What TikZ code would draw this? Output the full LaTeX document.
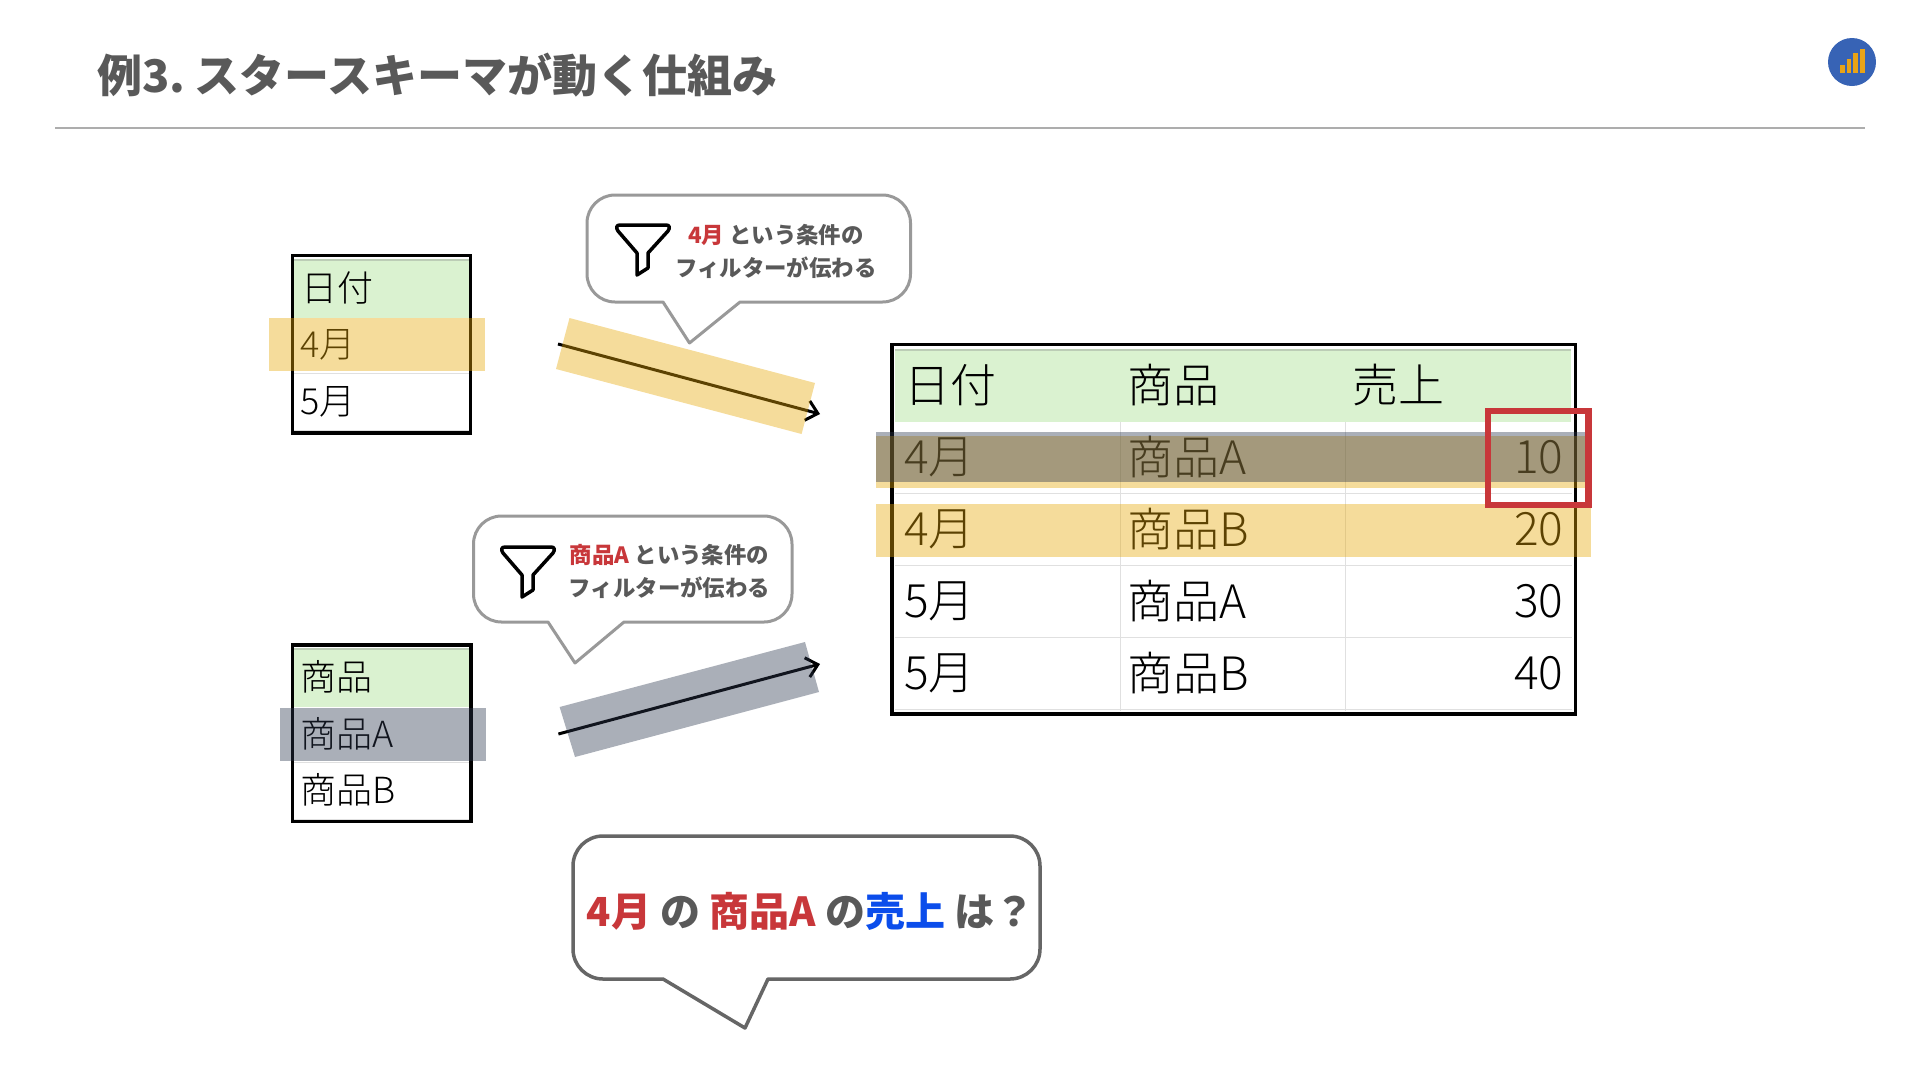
\documentclass[tikz,border=0pt]{standalone}
\usepackage{fontspec}
\setmainfont{Noto Sans CJK JP}
\newfontfamily\lightfont{Noto Sans CJK JP Light}
\usetikzlibrary{positioning, arrows.meta}
\definecolor{headgreen}{HTML}{DAF2D0}
\definecolor{headedge}{HTML}{BCCDB6}
\definecolor{titlegrey}{HTML}{595959}
\definecolor{markred}{HTML}{C8373A}
\definecolor{markblue}{HTML}{0B4DEB}
\definecolor{bandorange}{HTML}{E6A705}
\definecolor{bandnavy}{HTML}{2B364D}
\definecolor{gridgrey}{HTML}{E0E0E0}
\definecolor{logoblue}{HTML}{3763B5}
\definecolor{logobar}{HTML}{E8A317}
\tikzset{
    bigcell/.style={inner sep=0pt, anchor=west, font=\lightfont\fontsize{46}{46}\selectfont},
    smallcell/.style={inner sep=0pt, anchor=west, font=\lightfont\fontsize{36}{36}\selectfont},
    tablebox/.style={draw=black, line width=3.5pt},
    orangeband/.style={fill=bandorange, fill opacity=0.4},
    navyband/.style={fill=bandnavy, fill opacity=0.4},
    filterarrow/.style={-{Straight Barb[length=11pt, width=20pt]}, black, line width=3pt},
    gridline/.style={gridgrey, line width=1pt},
    bubbleline/.style={line width=3pt, line join=round, fill=white},
    filtertext/.style={inner sep=0pt, align=center, text=titlegrey, font=\bfseries\fontsize{22.4}{33}\selectfont},
}
\begin{document}
\begin{tikzpicture}[x=1pt, y=-1pt]
    \useasboundingbox (0,0) rectangle (1920,1080);

    % Title and logo
    \node[anchor=west, inner sep=0pt, text=titlegrey, font=\bfseries\fontsize{45}{45}\selectfont] (title) at (97,75) {例3.\hspace{9pt}スタースキーマが動く仕組み};
    \coordinate (ruleL) at (55,128);
    \coordinate (ruleR) at (1865,128);
    \draw[black!32, line width=2.5pt] (ruleL) -- (ruleR);
    \fill[logoblue] (1852,62) circle (24);
    \foreach \bx/\by in {1840/65, 1846.7/59, 1853.4/53, 1860/49} {
        \fill[logobar] (\bx,\by) rectangle (\bx+4.6,73);
    }

    % Date table
    \fill[headgreen] (294,260) rectangle (469,318);
    \draw[headedge, line width=1.5pt] (294,260) -- (469,260);
    \draw[gridline] (294,373) -- (469,373);
    \draw[gridline] (294,430) -- (469,430);
    \node[smallcell] (dateHead) at (301,288) {日付};
    \node[smallcell] (dateApr) at (300,345) {4月};
    \node[smallcell] (dateMay) at (300,402) {5月};
    \draw[tablebox] (292.5,255.5) rectangle (470.5,433);

    % Product table
    \fill[headgreen] (294,649) rectangle (470,707);
    \draw[headedge, line width=1.5pt] (294,649) -- (470,649);
    \draw[gridline] (294,762) -- (470,762);
    \draw[gridline] (294,819) -- (470,819);
    \node[smallcell] (prodHead) at (300,677) {商品};
    \node[smallcell] (prodA) at (300,734) {商品A};
    \node[smallcell] (prodB) at (300,790) {商品B};
    \draw[tablebox] (292.5,645) rectangle (471,821.5);

    % Sales table
    \fill[headgreen] (895,350) rectangle (1571,422);
    \draw[headedge, line width=1.5pt] (895,350) -- (1571,350);
    \foreach \gx in {1120,1345} {
        \draw[gridline] (\gx,422) -- (\gx,711);
    }
    \foreach \gy in {493,565,637,709} {
        \draw[gridline] (895,\gy) -- (1572,\gy);
    }
    \node[bigcell] (headDate) at (904,385) {日付};
    \node[bigcell] (headProd) at (1127.5,385) {商品};
    \node[bigcell] (headSales) at (1352.5,385) {売上};
    \foreach \rowy/\rowm/\rowp/\rows in {457/4/A/10, 529/4/B/20, 601/5/A/30, 673/5/B/40} {
        \node[bigcell] at (904,\rowy) {\rowm 月};
        \node[bigcell] at (1127.5,\rowy) {商品\rowp};
        \node[bigcell, anchor=east] at (1563.5,\rowy) {\rows};
    }
    \draw[tablebox] (892,344.5) rectangle (1575.5,714);

    % Highlight bands
    \fill[orangeband] (269,318) rectangle (485,371);
    \fill[navyband] (280,708) rectangle (486,761);
    \fill[orangeband] (876,436) rectangle (1585,488);
    \fill[navyband] (876,432) rectangle (1585,482);
    \fill[orangeband] (876,504) rectangle (1591,557);
    \draw[markred, line width=6.5pt] (1488,411) rectangle (1588.5,505);

    % Filter arrows
    \coordinate (aprStart) at (558,344);
    \coordinate (aprEnd) at (820,414);
    \coordinate (prodStart) at (558.4,734);
    \coordinate (prodEnd) at (820,664);
    \draw[filterarrow] (aprStart) -- (aprEnd);
    \draw[filterarrow] (prodStart) -- (prodEnd);
    \fill[orangeband] (569.5,318) -- (815,383) -- (801.6,434) -- (556,369) -- cycle;
    \fill[navyband] (559.6,707) -- (805,642) -- (819,692) -- (575,757) -- cycle;

    % Upper bubble
    \draw[bubbleline, draw=black!40, rounded corners=28pt] (750,195) -- (910.5,195) -- (910.5,302) [sharp corners] -- (740,302) -- (689.5,343) -- (663,302) [rounded corners=28pt] -- (587,302) -- (587,195) -- cycle;
    \node[filtertext] (aprText) at (776,251.5) {\textcolor{markred}{4月} という条件の\\フィルターが伝わる};

    % Lower bubble
    \draw[bubbleline, draw=black!40, rounded corners=28pt] (650,516) -- (792,516) -- (792,622) [sharp corners] -- (624,622) -- (575,663) -- (548,622) [rounded corners=28pt] -- (473.5,622) -- (473.5,516) -- cycle;
    \node[filtertext] (prodText) at (669.5,571.5) {\textcolor{markred}{商品A} という条件の\\フィルターが伝わる};

    % Funnel icons
    \foreach \fx/\fy in {617/225, 502/547} {
        \begin{scope}[shift={(\fx,\fy)}]
            \draw[black, line width=3.5pt, line join=round] (3,0) -- (49,0) .. controls (53,0) and (53,3) .. (51,6) -- (31,28) -- (31,43) -- (20,50) -- (20,28) -- (1,6) .. controls (-1,3) and (-1,0) .. (3,0) -- cycle;
        \end{scope}
    }

    % Question bubble
    \draw[bubbleline, draw=black!60, line width=3.5pt, rounded corners=30pt] (800,836) -- (1040,836) -- (1040,979) [sharp corners] -- (768,979) -- (745,1028) -- (663,979) [rounded corners=30pt] -- (573,979) -- (573,836) -- cycle;
    \node[inner sep=0pt, text=titlegrey, font=\bfseries\fontsize{40}{40}\selectfont] (question) at (810.5,911) {\textcolor{markred}{4月} の \textcolor{markred}{商品A} の\textcolor{markblue}{売上} は？};
\end{tikzpicture}
\end{document}
